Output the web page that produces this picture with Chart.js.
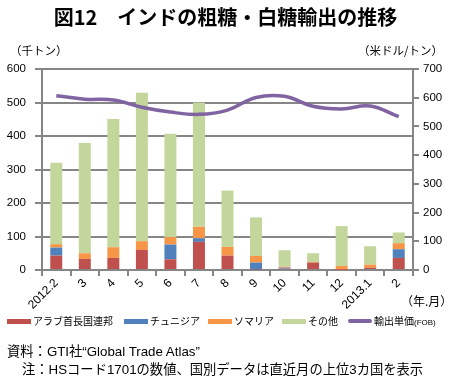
<!DOCTYPE html>
<html><head><meta charset="utf-8">
<script src="https://cdn.jsdelivr.net/npm/chart.js@4/dist/chart.umd.min.js"></script>
<style>
html,body{margin:0;padding:0;background:#fff;}
#wrap{position:relative;width:451px;height:383px;overflow:hidden;font-family:"Liberation Sans","Noto Sans CJK JP",sans-serif;color:#000;}
canvas{position:absolute;left:0;top:0;}
.t{position:absolute;white-space:nowrap;line-height:1;}
#title{left:0;width:451px;top:7px;text-align:center;font-size:20px;font-weight:bold;font-family:"Noto Sans CJK JP",sans-serif;}
.unit{font-size:11.5px;top:45px;font-family:"Noto Sans CJK JP",sans-serif;}
.leg{position:absolute;top:317px;font-size:10px;font-family:"Liberation Sans","Noto Sans CJK JP",sans-serif;white-space:nowrap;line-height:10px;}
.sw{display:inline-block;width:24px;height:5px;vertical-align:middle;margin-right:2px;position:relative;top:-1px;}
.note{font-size:13.3px;font-family:"Liberation Sans","Noto Sans CJK JP",sans-serif;}
</style></head>
<body><div id="wrap">
<canvas id="c" width="451" height="383"></canvas>
<div id="title" class="t">図12　インドの粗糖・白糖輸出の推移</div>
<div class="t unit" style="left:10px;">（千トン）</div>
<div class="t unit" style="left:358px;">（米ドル/トン）</div>
<div class="t" style="left:401px;top:295px;font-size:12px;font-family:'Noto Sans CJK JP',sans-serif;">（年.月）</div>
<div class="leg" style="left:7px;"><span class="sw" style="background:#C0504D"></span>アラブ首長国連邦</div>
<div class="leg" style="left:124px;"><span class="sw" style="background:#4F81BD"></span>チュニジア</div>
<div class="leg" style="left:208px;"><span class="sw" style="background:#F79646"></span>ソマリア</div>
<div class="leg" style="left:282px;"><span class="sw" style="background:#C3D69B"></span>その他</div>
<div class="leg" style="left:348px;"><span class="sw" style="background:#8064A2;height:4px;border-radius:2px;"></span>輸出単価<span style="font-size:8px">(FOB)</span></div>
<div class="t note" style="left:7px;top:345px;">資料：GTI社“Global Trade Atlas”</div>
<div class="t note" style="left:22px;top:363px;">注：HSコード1701の数値、国別データは直近月の上位3カ国を表示</div>
</div>
<script>
const categories = ["2012.2","3","4","5","6","7","8","9","10","11","12","2013.1","2"];
const uae      = [43, 33, 36, 60, 32, 84, 43, 2, 4, 22, 1, 7, 36];
const tunisia  = [24, 0, 0, 0, 44, 11, 0, 20, 3, 0, 0, 0, 26];
const somalia  = [10, 17, 32, 26, 22, 34, 26, 20, 3, 2, 11, 9, 18];
const others   = [243, 329, 383, 443, 309, 371, 168, 115, 49, 26, 119, 55, 32];
const unitPrice = [607, 595, 592, 567, 550, 542, 557, 601, 605, 570, 561, 571, 534];
const leftTicks = [0,100,200,300,400,500,600];
const rightTicks = [0,100,200,300,400,500,600,700];

const gridCol = '#868686';
const tickFont = {family:"Liberation Sans, Noto Sans CJK JP, sans-serif", size:11.5};
function bar(label, data, color){
  return {type:'bar', label, data, backgroundColor:color, yAxisID:'y', stack:'s', order:2,
          barPercentage:0.42, categoryPercentage:1};
}
new Chart(document.getElementById('c'), {
  type:'bar',
  data:{
    labels:categories,
    datasets:[
      {type:'line', label:'輸出単価(FOB)', data:unitPrice, yAxisID:'y2', borderColor:'#8064A2',
       borderWidth:3.5, pointRadius:0, tension:0.4, order:0, fill:false},
      bar('アラブ首長国連邦', uae, '#C0504D'),
      bar('チュニジア', tunisia, '#4F81BD'),
      bar('ソマリア', somalia, '#F79646'),
      bar('その他', others, '#C3D69B')
    ]
  },
  options:{
    responsive:false, animation:false, devicePixelRatio:1,
    layout:{padding:{top:69,left:0,right:0,bottom:0}},
    plugins:{legend:{display:false}, tooltip:{enabled:false}, title:{display:false}},
    scales:{
      x:{stacked:true, offset:true,
         grid:{drawOnChartArea:false, color:gridCol, lineWidth:2, tickLength:6, offset:true},
         border:{color:gridCol, width:2},
         ticks:{minRotation:45, maxRotation:45, font:{...tickFont, size:12}, color:'#000', padding:0, autoSkip:false},
         afterFit:s=>{s.height=113;}},
      y:{stacked:true, position:'left', min:0, max:600,
         afterBuildTicks:s=>{s.ticks=leftTicks.map(v=>({value:v}));},
         grid:{color:gridCol, lineWidth:2, tickLength:7},
         border:{color:gridCol, width:2},
         ticks:{font:tickFont, color:'#000', padding:9},
         afterFit:s=>{s.width=42;}},
      y2:{position:'right', min:0, max:700,
         afterBuildTicks:s=>{s.ticks=rightTicks.map(v=>({value:v}));},
         grid:{drawOnChartArea:false, color:gridCol, lineWidth:2, tickLength:6},
         border:{color:gridCol, width:2},
         ticks:{font:tickFont, color:'#000', padding:4},
         afterFit:s=>{s.width=38;}}
    }
  }
});
</script>
</body></html>
